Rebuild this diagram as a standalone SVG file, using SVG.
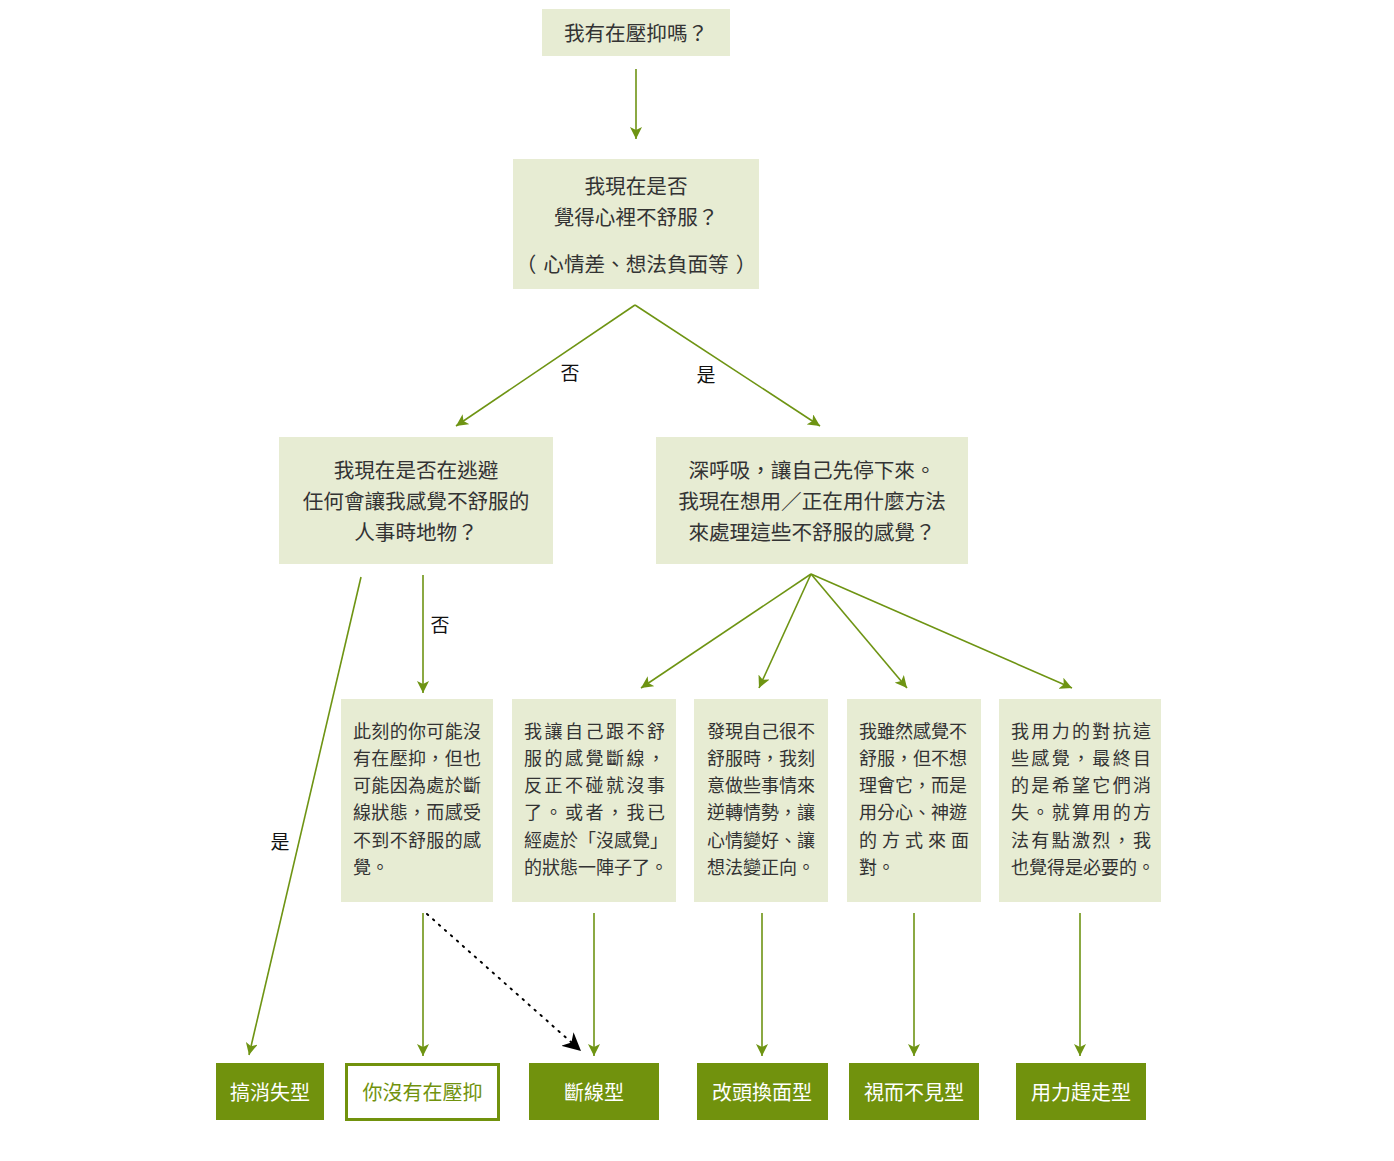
<svg xmlns="http://www.w3.org/2000/svg" width="1394" height="1161" viewBox="0 0 1394 1161">
<style>
text{font-family:"Noto Sans CJK TC","Noto Sans CJK SC",sans-serif;dominant-baseline:central;}
.q rect{fill:#e7ecd3;}
.q text{font-size:20.6px;fill:#333;text-anchor:middle;}
.m rect{fill:#e7ecd3;}
.m text{font-size:18px;fill:#333;}
.r rect{fill:#71920d;}
.r text{font-size:20px;fill:#fff;text-anchor:middle;}
.w rect{fill:#fff;stroke:#71920d;stroke-width:3;}
.w text{font-size:20px;fill:#71920d;text-anchor:middle;}
.lbl{font-size:19px;fill:#111;text-anchor:middle;}
.c{stroke:#6e9413;stroke-width:1.6;fill:none;marker-end:url(#ga);}
.d{stroke:#000;stroke-width:2;stroke-dasharray:1.5 6.5;stroke-linecap:round;fill:none;marker-end:url(#ka);}
</style>
<defs>
<marker id="ga" viewBox="0 0 12 12" refX="12" refY="6" markerWidth="12" markerHeight="12" markerUnits="userSpaceOnUse" orient="auto">
<path d="M0,0 L12,6 L0,12 L3,6 z" fill="#6e9413"/>
</marker>
<marker id="ka" viewBox="0 0 14 14" refX="14" refY="7" markerWidth="18" markerHeight="18" markerUnits="userSpaceOnUse" orient="auto">
<path d="M0,0 L14,7 L0,14 L4,7 z" fill="#000"/>
</marker>
</defs>

<g id="connectors">
<line class="c" x1="636" y1="69" x2="636" y2="139"/>
<polyline class="c" points="635,305 456,426"/>
<polyline class="c" points="635,305 820,426"/>
<line class="c" x1="361" y1="577" x2="249" y2="1055"/>
<line class="c" x1="423" y1="575" x2="423" y2="693"/>
<line class="c" x1="811" y1="574" x2="641" y2="688"/>
<line class="c" x1="811" y1="574" x2="759" y2="688"/>
<line class="c" x1="811" y1="574" x2="907" y2="688"/>
<line class="c" x1="811" y1="574" x2="1072" y2="688"/>
<line class="c" x1="423" y1="913" x2="423" y2="1056"/>
<line class="c" x1="594" y1="913" x2="594" y2="1056"/>
<line class="c" x1="762" y1="913" x2="762" y2="1056"/>
<line class="c" x1="914" y1="913" x2="914" y2="1056"/>
<line class="c" x1="1080" y1="913" x2="1080" y2="1056"/>
<line class="d" x1="427" y1="914" x2="581" y2="1051"/>
<text class="lbl" x="570" y="371">否</text>
<text class="lbl" x="706" y="373">是</text>
<text class="lbl" x="440" y="623">否</text>
<text class="lbl" x="280" y="840">是</text>
</g>

<g id="n-top" class="q">
<rect x="542" y="9" width="188" height="47"/>
<text x="636" y="32">我有在壓抑嗎？</text>
</g>

<g id="n-feel" class="q">
<rect x="513" y="159" width="246" height="130"/>
<text x="636" y="185">我現在是否</text>
<text x="636" y="216">覺得心裡不舒服？</text>
<text x="636" y="263"><tspan x="526">（</tspan><tspan x="636">心情差、想法負面等</tspan><tspan x="746">）</tspan></text>
</g>

<g id="n-avoid" class="q">
<rect x="279" y="437" width="274" height="127"/>
<text x="416" y="469">我現在是否在逃避</text>
<text x="416" y="500">任何會讓我感覺不舒服的</text>
<text x="416" y="531">人事時地物？</text>
</g>

<g id="n-method" class="q">
<rect x="656" y="437" width="312" height="127"/>
<text x="812" y="469">深呼吸，讓自己先停下來。</text>
<text x="812" y="500">我現在想用／正在用什麼方法</text>
<text x="812" y="531">來處理這些不舒服的感覺？</text>
</g>

<g id="m-a" class="m">
<rect x="341" y="699" width="152" height="203"/>
<text x="353" y="730" textLength="128" lengthAdjust="spacing">此刻的你可能沒</text>
<text x="353" y="757" textLength="128" lengthAdjust="spacing">有在壓抑，但也</text>
<text x="353" y="784" textLength="128" lengthAdjust="spacing">可能因為處於斷</text>
<text x="353" y="811" textLength="128" lengthAdjust="spacing">線狀態，而感受</text>
<text x="353" y="839" textLength="128" lengthAdjust="spacing">不到不舒服的感</text>
<text x="353" y="866">覺。</text>
</g>

<g id="m-b" class="m">
<rect x="512" y="699" width="164" height="203"/>
<text x="524" y="730" textLength="141" lengthAdjust="spacing">我讓自己跟不舒</text>
<text x="524" y="757" textLength="141" lengthAdjust="spacing">服的感覺斷線，</text>
<text x="524" y="784" textLength="141" lengthAdjust="spacing">反正不碰就沒事</text>
<text x="524" y="811" textLength="141" lengthAdjust="spacing">了。或者，我已</text>
<text x="524" y="839" textLength="144" lengthAdjust="spacing">經處於「沒感覺」</text>
<text x="524" y="866">的狀態一陣子了。</text>
</g>

<g id="m-c" class="m">
<rect x="694" y="699" width="134" height="203"/>
<text x="707" y="730">發現自己很不</text>
<text x="707" y="757">舒服時，我刻</text>
<text x="707" y="784">意做些事情來</text>
<text x="707" y="811">逆轉情勢，讓</text>
<text x="707" y="839">心情變好、讓</text>
<text x="707" y="866">想法變正向。</text>
</g>

<g id="m-d" class="m">
<rect x="847" y="699" width="134" height="203"/>
<text x="859" y="730">我雖然感覺不</text>
<text x="859" y="757">舒服，但不想</text>
<text x="859" y="784">理會它，而是</text>
<text x="859" y="811">用分心、神遊</text>
<text x="859" y="839" textLength="110" lengthAdjust="spacing">的方式來面</text>
<text x="859" y="866">對。</text>
</g>

<g id="m-e" class="m">
<rect x="999" y="699" width="162" height="203"/>
<text x="1011" y="730" textLength="140" lengthAdjust="spacing">我用力的對抗這</text>
<text x="1011" y="757" textLength="140" lengthAdjust="spacing">些感覺，最終目</text>
<text x="1011" y="784" textLength="140" lengthAdjust="spacing">的是希望它們消</text>
<text x="1011" y="811" textLength="140" lengthAdjust="spacing">失。就算用的方</text>
<text x="1011" y="839" textLength="140" lengthAdjust="spacing">法有點激烈，我</text>
<text x="1011" y="866">也覺得是必要的。</text>
</g>

<g id="r-1" class="r">
<rect x="216" y="1063" width="108" height="57"/>
<text x="270" y="1091">搞消失型</text>
</g>
<g id="r-2" class="w">
<rect x="346.5" y="1064.5" width="152" height="55"/>
<text x="422.5" y="1091">你沒有在壓抑</text>
</g>
<g id="r-3" class="r">
<rect x="529" y="1063" width="130" height="57"/>
<text x="594" y="1091">斷線型</text>
</g>
<g id="r-4" class="r">
<rect x="697" y="1063" width="131" height="57"/>
<text x="762" y="1091">改頭換面型</text>
</g>
<g id="r-5" class="r">
<rect x="849" y="1063" width="130" height="57"/>
<text x="914" y="1091">視而不見型</text>
</g>
<g id="r-6" class="r">
<rect x="1016" y="1063" width="130" height="57"/>
<text x="1081" y="1091">用力趕走型</text>
</g>
</svg>
